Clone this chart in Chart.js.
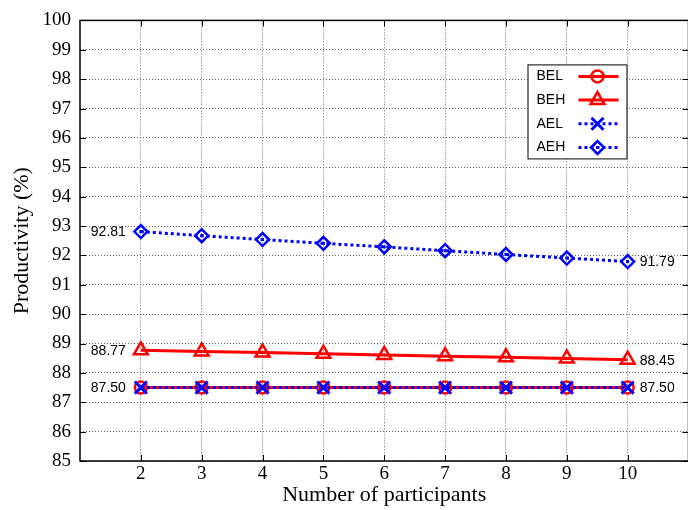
<!DOCTYPE html>
<html>
<head>
<meta charset="utf-8">
<script src="https://cdn.jsdelivr.net/npm/chart.js@4"></script>
<style>
    body { margin: 0; background: #fff; overflow: hidden; }
    #wrap { width: 700px; height: 510px; }
</style>
</head>
<body>
<div id="wrap"><canvas id="chart" width="700" height="510"></canvas></div>
<script>
const participants = [2, 3, 4, 5, 6, 7, 8, 9, 10];
const bel = [87.50, 87.50, 87.50, 87.50, 87.50, 87.50, 87.50, 87.50, 87.50];
const beh = [88.77, 88.73, 88.69, 88.65, 88.61, 88.57, 88.53, 88.49, 88.45];
const ael = [87.50, 87.50, 87.50, 87.50, 87.50, 87.50, 87.50, 87.50, 87.50];
const aeh = [92.81, 92.67, 92.54, 92.41, 92.29, 92.16, 92.03, 91.91, 91.79];
const yTicks = [85, 86, 87, 88, 89, 90, 91, 92, 93, 94, 95, 96, 97, 98, 99, 100];

const RED = '#ff0000';
const BLUE = '#0000ff';
const SERIF = '"Liberation Serif", "Times New Roman", serif';
const SANS = '"Liberation Sans", Arial, sans-serif';

function pts(values) {
    return values.map((v, i) => ({ x: participants[i], y: v }));
}

const datasets = [
    { label: 'BEL', data: pts(bel), borderColor: RED, borderWidth: 3, pointStyle: 'circle',
      pointRadius: 6, pointBorderWidth: 2.5, pointBackgroundColor: 'rgba(0,0,0,0)', order: 4, endLabels: true },
    { label: 'BEH', data: pts(beh), borderColor: RED, borderWidth: 3, pointStyle: 'triangle',
      pointRadius: 8, pointBorderWidth: 2.5, pointBackgroundColor: 'rgba(0,0,0,0)', order: 3, endLabels: true },
    { label: 'AEL', data: pts(ael), borderColor: BLUE, borderWidth: 3, borderDash: [3, 3], pointStyle: 'crossRot',
      pointRadius: 8.5, pointBorderWidth: 3, pointBackgroundColor: 'rgba(0,0,0,0)', order: 2, endLabels: false },
    { label: 'AEH', data: pts(aeh), borderColor: BLUE, borderWidth: 3, borderDash: [3, 3], pointStyle: 'rectRot',
      pointRadius: 6.5, pointBorderWidth: 2.5, pointBackgroundColor: 'rgba(0,0,0,0)', order: 1, endLabels: true, centerDot: true }
];
datasets.forEach(d => { d.pointBorderColor = d.borderColor; d.fill = false; d.tension = 0; });

// frame, inward ticks, value labels, legend and diamond centre dots
const extras = {
    id: 'extras',
    afterDatasetsDraw(chart) {
        const ctx = chart.ctx;
        chart.data.datasets.forEach((ds, i) => {
            if (!ds.centerDot) return;
            chart.getDatasetMeta(i).data.forEach(p => {
                ctx.fillStyle = ds.borderColor;
                ctx.fillRect(p.x - 1.5, p.y - 1.5, 3, 3);
            });
        });
    },
    afterDraw(chart) {
        const ctx = chart.ctx;
        const a = chart.chartArea;
        const xs = chart.scales.x, ys = chart.scales.y;
        ctx.save();

        // inward ticks
        ctx.strokeStyle = '#000';
        ctx.lineWidth = 1;
        ctx.setLineDash([]);
        ctx.beginPath();
        participants.forEach(v => {
            const x = Math.round(xs.getPixelForValue(v)) + 0.5;
            ctx.moveTo(x, a.bottom); ctx.lineTo(x, a.bottom - 6);
            ctx.moveTo(x, a.top); ctx.lineTo(x, a.top + 6);
        });
        yTicks.forEach(v => {
            const y = Math.round(ys.getPixelForValue(v)) + 0.5;
            ctx.moveTo(a.left, y); ctx.lineTo(a.left + 6, y);
            ctx.moveTo(a.right, y); ctx.lineTo(a.right - 6, y);
        });
        ctx.stroke();

        // frame
        ctx.lineWidth = 1.5;
        ctx.strokeRect(a.left, a.top, a.right - a.left, a.bottom - a.top);

        // end value labels
        ctx.font = '14px ' + SANS;
        ctx.fillStyle = '#000';
        ctx.textBaseline = 'middle';
        chart.data.datasets.forEach((ds, i) => {
            if (!ds.endLabels) return;
            const pts = chart.getDatasetMeta(i).data;
            const first = pts[0], last = pts[pts.length - 1];
            ctx.textAlign = 'right';
            ctx.fillText(ds.data[0].y.toFixed(2), first.x - 15, first.y + 1);
            ctx.textAlign = 'left';
            ctx.fillText(ds.data[ds.data.length - 1].y.toFixed(2), last.x + 12, last.y + 1);
        });

        // legend
        const bx = a.right - 161, by = a.top + 44, bw = 99, bh = 94;
        ctx.fillStyle = '#fff';
        ctx.fillRect(bx, by, bw, bh);
        ctx.lineWidth = 1;
        ctx.strokeStyle = '#000';
        ctx.strokeRect(bx + 0.5, by + 0.5, bw, bh);
        chart.data.datasets.forEach((ds, i) => {
            const y = by + 12 + i * 23.7;
            ctx.fillStyle = '#000';
            ctx.textAlign = 'left';
            ctx.font = '14px ' + SANS;
            ctx.fillText(ds.label, bx + 9, y);
            ctx.strokeStyle = ds.borderColor;
            ctx.lineWidth = 3;
            ctx.setLineDash(ds.borderDash || []);
            ctx.beginPath();
            ctx.moveTo(bx + 51, y); ctx.lineTo(bx + 91, y);
            ctx.stroke();
            ctx.setLineDash([]);
            ctx.lineWidth = ds.pointBorderWidth;
            ctx.fillStyle = 'rgba(0,0,0,0)';
            Chart.helpers.drawPoint(ctx, { pointStyle: ds.pointStyle, radius: ds.pointRadius, borderWidth: ds.pointBorderWidth }, bx + 70, y);
            ctx.fillStyle = ds.borderColor;
            if (ds.centerDot) ctx.fillRect(bx + 68.5, y - 1.5, 3, 3);
        });
        ctx.restore();
    }
};

new Chart(document.getElementById('chart'), {
    type: 'line',
    data: { datasets: datasets },
    options: {
        responsive: false,
        animation: false,
        layout: { padding: { top: 19, right: 5, left: 0, bottom: 0 } },
        plugins: { legend: { display: false }, tooltip: { enabled: false } },
        scales: {
            x: {
                type: 'linear',
                min: 1,
                max: 11,
                afterBuildTicks: s => { s.ticks = participants.map(v => ({ value: v })); },
                afterFit: s => { s.height = 49; },
                grid: { color: '#666', lineWidth: 1, drawTicks: false },
                border: { display: false, dash: [1, 2] },
                ticks: { color: '#000', padding: 2, maxRotation: 0, font: { family: SERIF, size: 19 } },
                title: { display: true, text: 'Number of participants', color: '#000',
                         font: { family: SERIF, size: 22 }, padding: { top: 0, bottom: 2 } }
            },
            y: {
                min: 85,
                max: 100,
                afterBuildTicks: s => { s.ticks = yTicks.map(v => ({ value: v })); },
                afterFit: s => { s.width = 80; },
                grid: { color: '#666', lineWidth: 1, drawTicks: false },
                border: { display: false, dash: [1, 2] },
                ticks: { color: '#000', padding: 9, font: { family: SERIF, size: 19 } },
                title: { display: true, text: 'Productivity (%)', color: '#000',
                         font: { family: SERIF, size: 22 }, padding: { top: 9, bottom: 4 } }
            }
        }
    },
    plugins: [extras]
});
</script>
</body>
</html>
